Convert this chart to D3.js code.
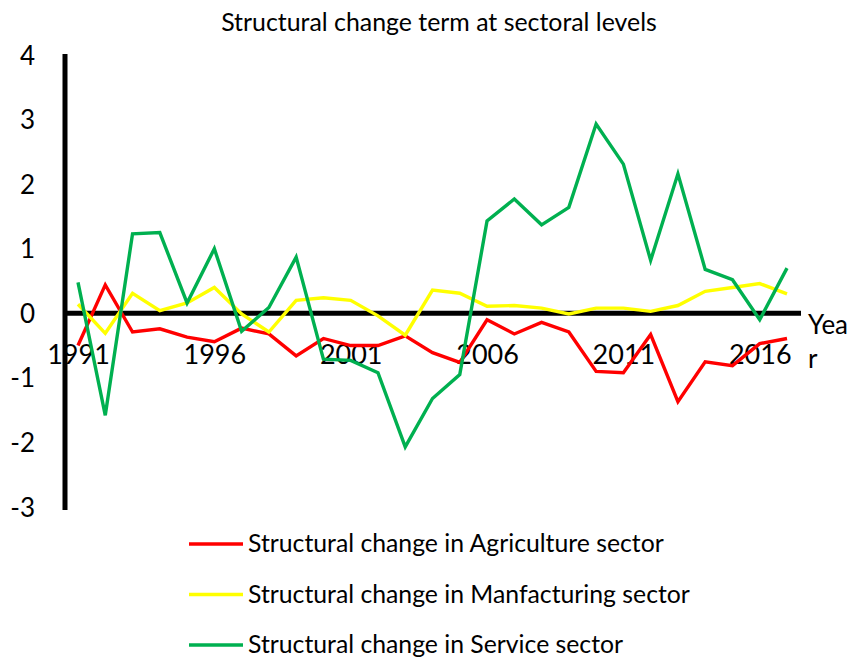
<!DOCTYPE html>
<html>
<head>
  <meta charset="utf-8">
  <title>Structural change term at sectoral levels</title>
  <script src="https://d3js.org/d3.v7.min.js"></script>
  <style>
    body { margin: 0; background: #fff; }
    text { font-family: Lato, "Open Sans", sans-serif; fill: #000; }
  </style>
</head>
<body>
  <svg id="chart"></svg>

  <script>
    // data
    const years = d3.range(1991, 2018);
    const agriculture = [-0.50, 0.44, -0.29, -0.24, -0.37, -0.44, -0.23, -0.32, -0.66,
      -0.39, -0.50, -0.50, -0.35, -0.61, -0.76, -0.10, -0.32, -0.14,
      -0.29, -0.90, -0.92, -0.33, -1.37, -0.75, -0.81, -0.47, -0.39];
    const manufacturing = [0.14, -0.31, 0.31, 0.04, 0.16, 0.40, -0.01, -0.29, 0.20,
      0.24, 0.20, -0.04, -0.34, 0.36, 0.31, 0.11, 0.12, 0.08,
      -0.01, 0.08, 0.08, 0.03, 0.12, 0.34, 0.40, 0.46, 0.30];
    const service = [0.48, -1.58, 1.23, 1.25, 0.16, 1.00, -0.28, 0.09, 0.87,
      -0.71, -0.73, -0.92, -2.07, -1.32, -0.95, 1.43, 1.77, 1.37,
      1.64, 2.93, 2.31, 0.82, 2.16, 0.68, 0.52, -0.10, 0.70];
    const yearLabels = [1991, 1996, 2001, 2006, 2011, 2016];
    const yTicks = [-3, -2, -1, 0, 1, 2, 3, 4];

    const series = [
      { name: "Structural change in Agriculture sector", values: agriculture, color: "#ff0000" },
      { name: "Structural change in Manfacturing sector", values: manufacturing, color: "#ffff00" },
      { name: "Structural change in Service sector", values: service, color: "#00b050" }
    ];

    const width = 853, height = 660;
    const svg = d3.select("#chart").attr("width", width).attr("height", height);

    const x = d3.scaleLinear().domain([1991, 2017]).range([78, 787]);
    const y = d3.scaleLinear().domain([-3, 4]).range([507, 55]);

    // shrink/grow font so text spans the wanted width
    function fitText(sel, target) {
      const w = sel.node().getComputedTextLength();
      const fs = parseFloat(sel.attr("font-size"));
      sel.attr("font-size", (fs * target / w).toFixed(2));
    }

    // title
    const title = svg.append("text")
      .attr("x", 439).attr("y", 31)
      .attr("text-anchor", "middle")
      .attr("font-size", 20)
      .text("Structural change term at sectoral levels");
    fitText(title, 436);

    // y axis (plain hyphen minus like the original)
    const yAxis = svg.append("g")
      .attr("transform", "translate(65,0)")
      .call(d3.axisLeft(y).tickValues(yTicks).tickFormat(d => String(d)).tickSize(0).tickPadding(30));
    yAxis.select(".domain").remove();
    yAxis.selectAll("text")
      .attr("font-size", 26)
      .attr("dy", "0.35em")
      .style("font-family", "Lato, 'Open Sans', sans-serif");
    svg.append("line")
      .attr("x1", 65).attr("x2", 65)
      .attr("y1", y(4) - 1).attr("y2", y(-3) + 3)
      .attr("stroke", "#000").attr("stroke-width", 5);

    // zero line (x axis)
    svg.append("line")
      .attr("x1", 63).attr("x2", 801)
      .attr("y1", y(0)).attr("y2", y(0))
      .attr("stroke", "#000").attr("stroke-width", 5);

    const xAxis = svg.append("g")
      .attr("transform", `translate(0,${y(0)})`)
      .call(d3.axisBottom(x).tickValues(yearLabels).tickFormat(d3.format("d")).tickSize(0));
    xAxis.select(".domain").remove();
    xAxis.selectAll("text")
      .attr("y", 51).attr("dy", 0)
      .attr("font-size", 27)
      .style("font-family", "Lato, 'Open Sans', sans-serif");

    // axis title, wrapped like the original
    svg.append("text").attr("x", 808).attr("y", 334).attr("font-size", 26).text("Yea");
    svg.append("text").attr("x", 808).attr("y", 368).attr("font-size", 26).text("r");

    // lines
    const line = d3.line()
      .x((d, i) => x(years[i]))
      .y(d => y(d));

    svg.selectAll(".series")
      .data(series)
      .enter().append("path")
      .attr("class", "series")
      .attr("d", d => line(d.values))
      .attr("fill", "none")
      .attr("stroke", d => d.color)
      .attr("stroke-width", 3.4)
      .attr("stroke-linejoin", "miter");

    // legend
    const legend = svg.selectAll(".legend")
      .data(series)
      .enter().append("g")
      .attr("class", "legend")
      .attr("transform", (d, i) => `translate(0,${544 + i * 50.5})`);
    legend.append("line")
      .attr("x1", 189).attr("x2", 243)
      .attr("stroke", d => d.color)
      .attr("stroke-width", 3.4);
    legend.append("text")
      .attr("x", 248).attr("y", 8)
      .attr("font-size", 22)
      .text(d => d.name);
    fitText(legend.select("text").filter((d, i) => i === 0), 416);
    const legendSize = legend.select("text").attr("font-size");
    legend.selectAll("text").attr("font-size", legendSize);
  </script>
</body>
</html>
